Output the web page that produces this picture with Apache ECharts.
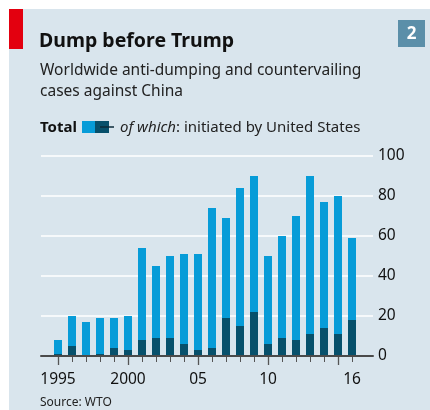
<!DOCTYPE html>
<html><head><meta charset="utf-8">
<script src="https://cdn.jsdelivr.net/npm/echarts@6/dist/echarts.min.js"></script>
<style>html,body{margin:0;padding:0;background:#fff}#c{width:430px;height:410px}</style>
</head><body><div id="c"></div>
<script>
const years = ['1995','1996','1997','1998','1999','2000','2001','2002','2003','2004','2005','2006','2007','2008','2009','2010','2011','2012','2013','2014','2015','2016'];
const totalCases = [8,20,17,19,19,20,54,45,50,51,51,74,69,84,90,50,60,70,90,77,80,59];
const usCases = [1,5,0,1,4,3,8,9,9,6,3,4,19,15,22,6,9,8,11,14,11,18];
const yTicks = [0,20,40,60,80,100];
const xLabelMap = {'1995':'1995','2000':'2000','2005':'05','2010':'10','2016':'16'};
const longTickYears = ['1995','2000','2005','2010','2015'];

const FONT = '"Noto Sans", sans-serif';
const LIGHT = '#079cd8';
const DARK = '#07506b';
const chart = echarts.init(document.getElementById('c'), null, {renderer:'canvas'});
chart.setOption({
  backgroundColor: '#fff',
  animation: false,
  textStyle: {fontFamily: FONT},
  graphic: [
    {type:'rect', z:-10, shape:{x:9,y:9,width:421,height:401}, style:{fill:'#d9e5ed'}},
    {type:'rect', shape:{x:9,y:9,width:14,height:40}, style:{fill:'#e3000f'}},
    {type:'rect', shape:{x:398,y:20,width:27,height:27}, style:{fill:'#5b8fa9'}},
    {type:'text', style:{text:'2', x:411.5, y:34, textAlign:'center', textVerticalAlign:'middle', font:'bold 17px '+FONT, fill:'#fff'}},
    {type:'text', style:{text:'Dump before Trump', x:39, y:41, textVerticalAlign:'middle', font:'bold 19.5px '+FONT, fill:'#111'}},
    {type:'text', style:{text:'Worldwide anti-dumping and countervailing', x:40, y:71, textVerticalAlign:'middle', font:'15.5px '+FONT, fill:'#222'}},
    {type:'text', style:{text:'cases against China', x:40, y:92, textVerticalAlign:'middle', font:'15.5px '+FONT, fill:'#222'}},
    {type:'text', style:{text:'Total', x:40, y:127.5, textVerticalAlign:'middle', font:'bold 15px '+FONT, fill:'#111'}},
    {type:'rect', shape:{x:82,y:121,width:13,height:12}, style:{fill:LIGHT}},
    {type:'rect', shape:{x:95,y:121,width:14,height:12}, style:{fill:DARK}},
    {type:'line', shape:{x1:100,y1:127,x2:114,y2:127}, style:{stroke:'#0b2a38', lineWidth:1.5}},
    {type:'text', style:{text:'{i|of which}: initiated by United States', x:120, y:127.5, textVerticalAlign:'middle', font:'15px '+FONT, fill:'#222',
      rich:{i:{fontStyle:'italic', fontSize:15, fontFamily:FONT, fill:'#222'}}}},
    {type:'text', style:{text:'Source: WTO', x:40, y:403, textVerticalAlign:'middle', font:'12px '+FONT, fill:'#222'}}
  ],
  grid: [
    {left:41, right:57, top:156, height:200},
    {left:51, width:308, top:156, height:200}
  ],
  xAxis: [
    {type:'value', gridIndex:0, position:'bottom', min:0, max:1, axisLabel:{show:false}, axisTick:{show:false}, splitLine:{show:false},
     axisLine:{show:true, onZero:false, lineStyle:{color:'#4a4a4a', width:2}}, z:5},
    {type:'category', gridIndex:1, position:'bottom', data:years, boundaryGap:true,
     axisLine:{show:false},
     axisTick:{show:true, alignWithLabel:true, interval:0, length:6, lineStyle:{color:'#555', width:1}},
     axisLabel:{show:true, interval:(i,v)=>v in xLabelMap, formatter:v=>xLabelMap[v]||'', margin:16, fontSize:15.5, color:'#111', fontFamily:FONT}},
    {type:'category', gridIndex:1, position:'bottom', offset:0, data:years, boundaryGap:true,
     axisLine:{show:false}, axisLabel:{show:false},
     axisTick:{show:true, alignWithLabel:true, interval:(i,v)=>longTickYears.includes(v), length:9, lineStyle:{color:'#555', width:1.3}}}
  ],
  yAxis: [
    {type:'value', gridIndex:0, position:'right', min:0, max:100, interval:20,
     axisLine:{show:false}, axisTick:{show:false},
     axisLabel:{margin:5, fontSize:15.5, color:'#111', fontFamily:FONT, formatter:v=>yTicks.includes(v)?String(v):''},
     splitLine:{show:true, lineStyle:{color:'#fff', width:1.6}}},
    {type:'value', gridIndex:1, min:0, max:100, interval:20, show:false, splitLine:{show:false}}
  ],
  series: [
    {type:'bar', name:'Total', xAxisIndex:1, yAxisIndex:1, data:totalCases, barWidth:8, itemStyle:{color:LIGHT}, z:2},
    {type:'bar', name:'United States', xAxisIndex:1, yAxisIndex:1, data:usCases, barWidth:8, barGap:'-100%', itemStyle:{color:DARK}, z:3}
  ]
});
</script></body></html>
